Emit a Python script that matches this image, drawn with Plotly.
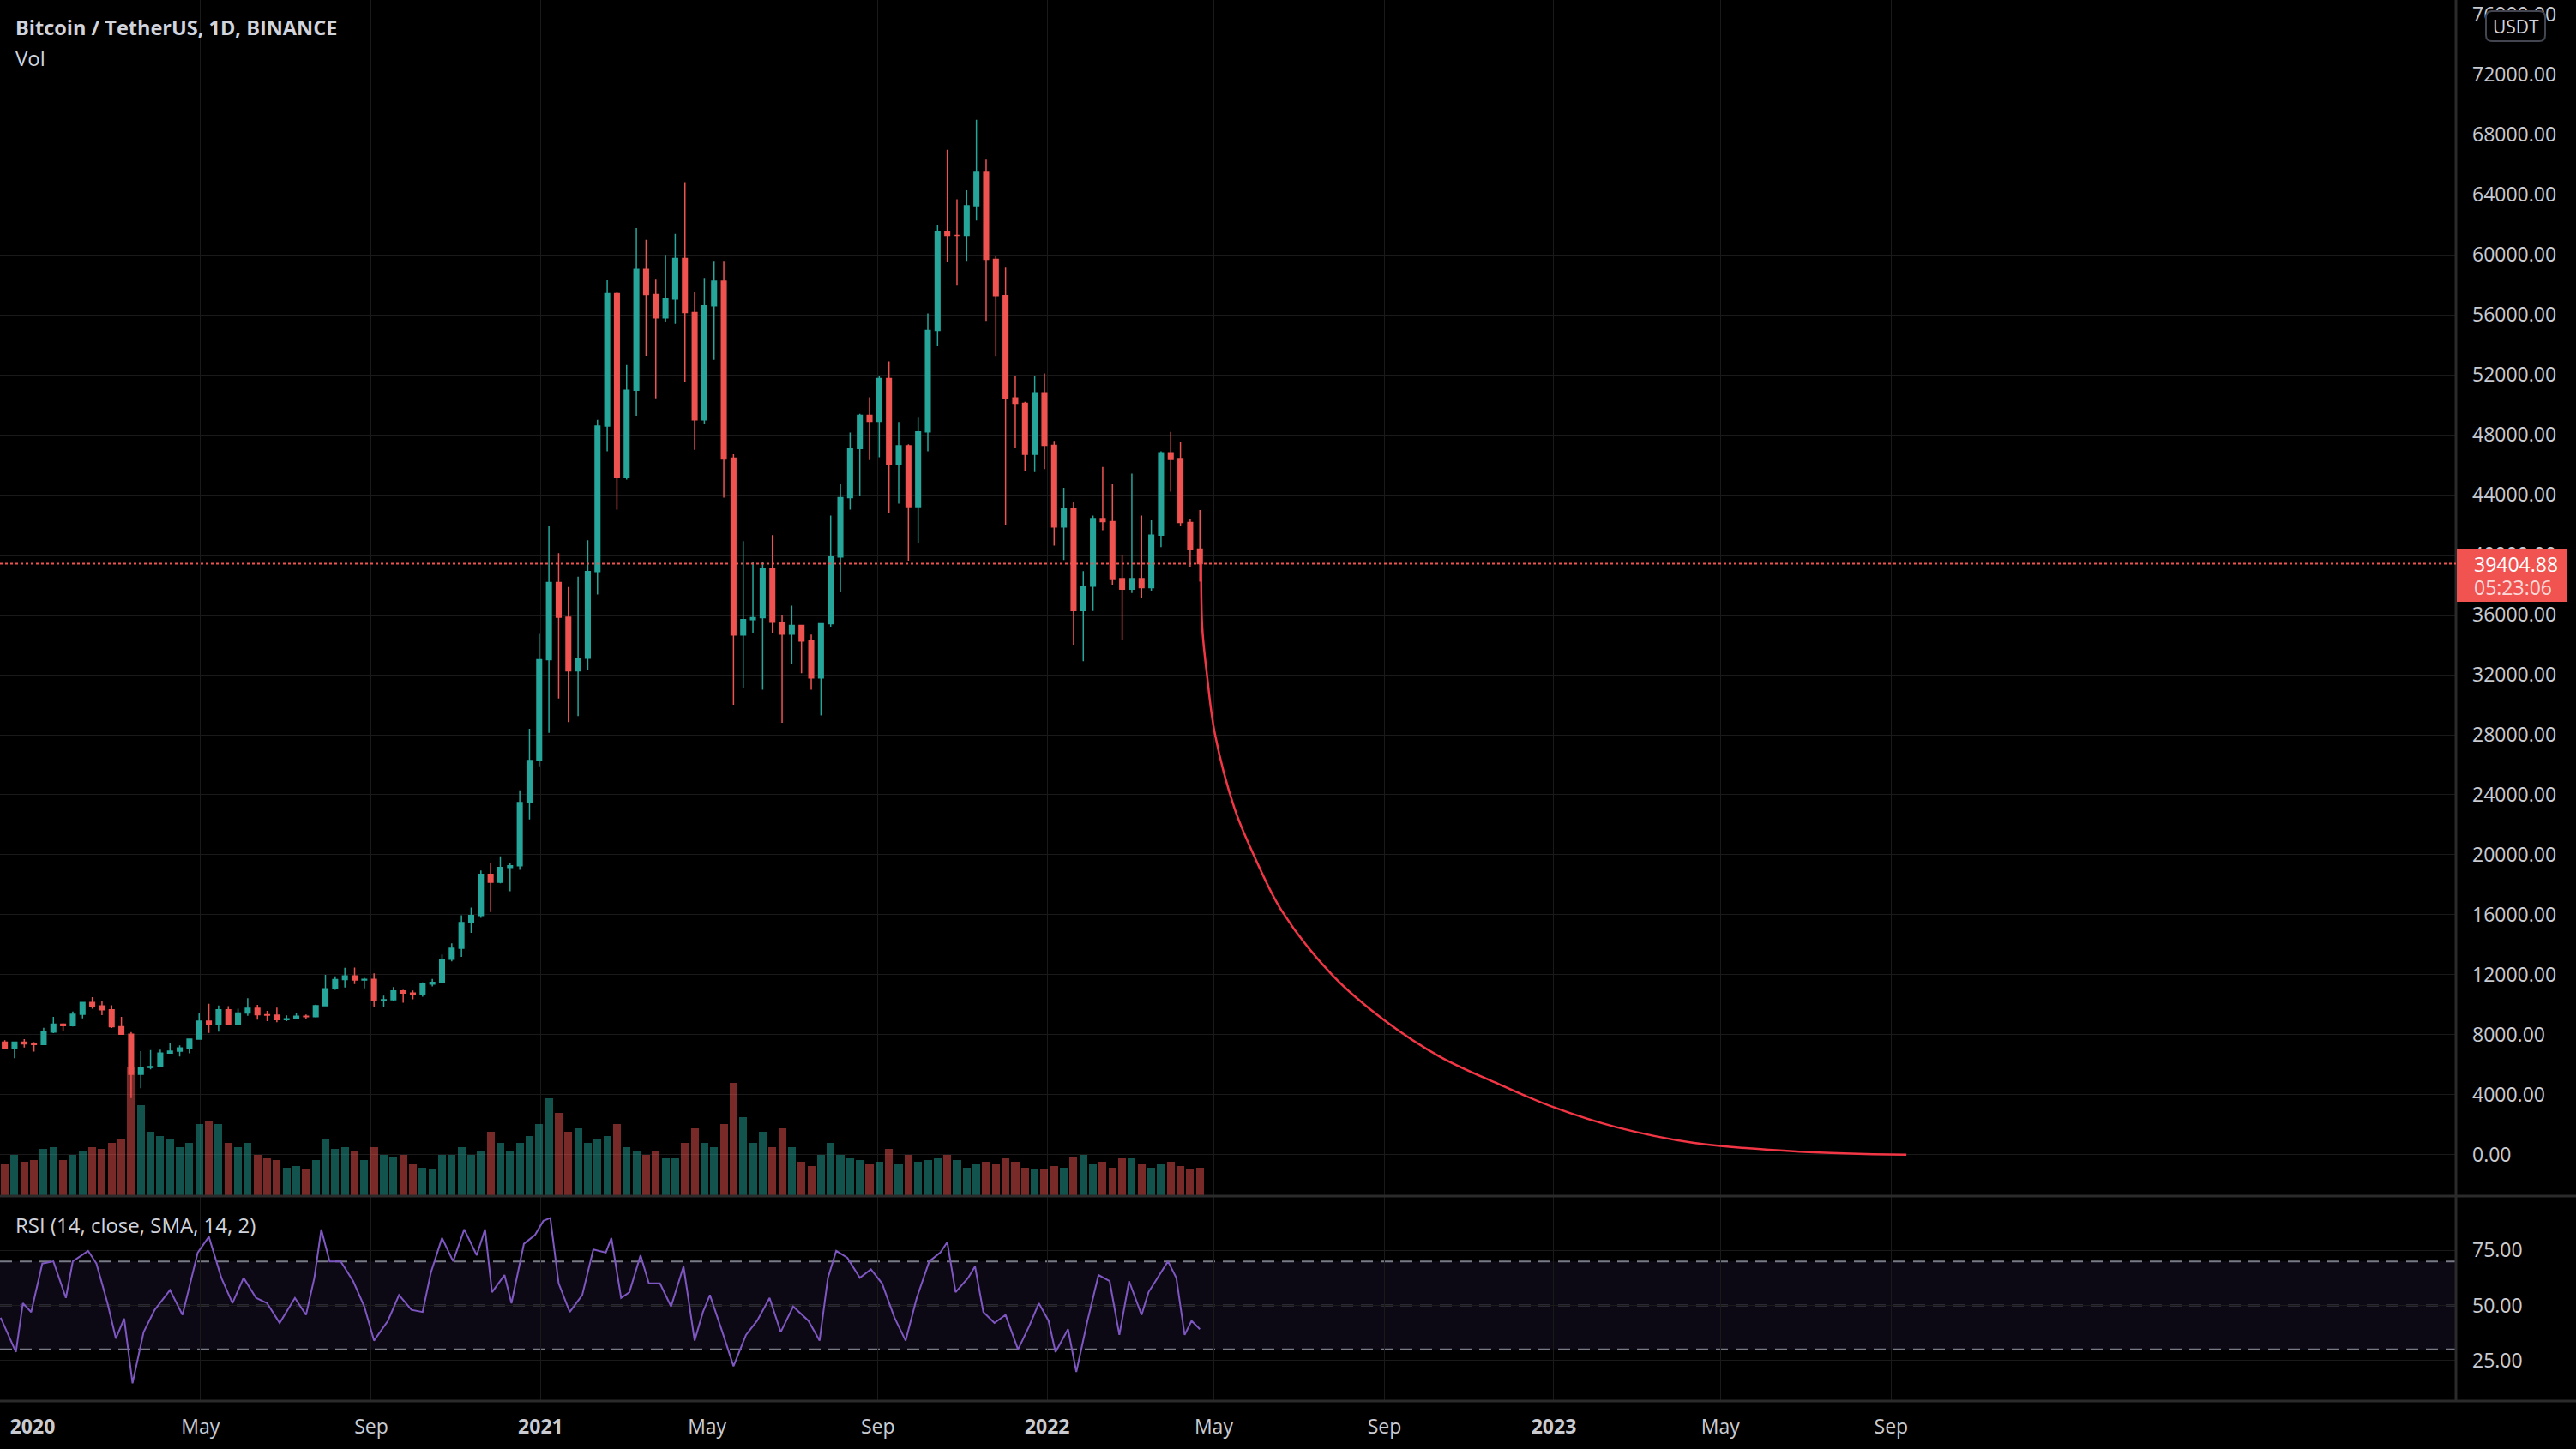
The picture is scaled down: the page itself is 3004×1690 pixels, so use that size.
import pandas as pd
import plotly.graph_objects as go

# ---------------- data (weekly candles) ----------------
week_start_first = "2019-12-02"
open_ = [7400, 7510, 7070, 7510,
         7390, 7350, 8180, 8700, 8600,
         9370, 10150, 9920, 9670,
         8530, 8040, 5360, 5820, 5880,
         6780, 6900, 7120, 7700,
         8900, 8720, 9670, 8720,
         9450, 9760, 9330, 9300, 9000,
         9070, 9240, 9210, 9930,
         11060, 11680, 11920, 11650, 11700,
         10260, 10330, 10920, 10780,
         10660, 11380, 11500, 13030,
         13760, 15480, 15950, 18690, 18170,
         19150, 19270, 23480, 26280,
         33000, 38150, 35830, 32260,
         33100, 38880, 48580, 57410,
         45140, 50970, 59020, 57350, 55800,
         57060, 59750, 56150, 49000,
         56600, 58240, 46430, 34650, 35670,
         35800, 39100, 35500, 34700,
         35290, 34240, 31780, 35400,
         39850, 43800, 47080, 49300, 48900,
         51750, 46050, 47260, 43200,
         48200, 54960, 61550, 61300,
         61300, 63270, 65500, 59700, 57280,
         50450, 50100, 46700, 50800,
         47300, 41850, 43080, 36280, 37900,
         42400, 42200, 38400, 37700,
         38400, 37800, 41300, 46800,
         46400, 42150, 40380]
high = [7700, 7640, 7520, 7700,
        7500, 8460, 9190, 8770, 9550,
        9900, 10500, 10250, 9960,
        9190, 8180, 6900, 6980, 7000,
        7470, 7290, 7700, 9460,
        10070, 9950, 9900, 9740,
        10430, 9990, 9590, 9800, 9290,
        9480, 9350, 10000, 12000,
        11900, 12470, 12480, 11800, 12090,
        10610, 11180, 10990, 10950,
        11490, 11720, 13350, 14100,
        15960, 16480, 18960, 19480, 19900,
        19420, 24300, 28400, 34780,
        41950, 40100, 37850, 38530,
        40960, 49000, 58350, 57530,
        52650, 61780, 61000, 58400, 60000,
        61400, 64850, 57500, 58450,
        59600, 59600, 46700, 40900, 39500,
        39500, 41300, 36000, 36600,
        35300, 34680, 35450, 42600,
        44700, 48150, 49400, 50500, 51900,
        52900, 48850, 47360, 49200,
        56100, 62000, 67000, 63700,
        64300, 69000, 66340, 59900, 59200,
        51950, 50200, 51900, 52100,
        47600, 44460, 43500, 38900, 42600,
        45850, 44750, 40000, 45400,
        42600, 42300, 46900, 48200,
        47500, 42400, 42980]
low = [7150, 7020, 6435, 7150,
       6870, 7340, 8100, 8240, 8550,
       9090, 9730, 9300, 8450,
       8000, 3780, 4440, 5690, 5860,
       6770, 6550, 6760, 7680,
       8120, 8200, 8700, 8630,
       9270, 9000, 8900, 8830, 8900,
       9050, 9050, 9150, 9900,
       11000, 11150, 11380, 11100, 9880,
       9880, 10260, 10140, 10370,
       10530, 11220, 11420, 12900,
       13200, 14800, 15790, 16180, 18100,
       17570, 19000, 22350, 25900,
       28130, 30420, 28850, 29240,
       32300, 37340, 46900, 43000,
       45000, 49270, 53270, 50420, 55500,
       55400, 51500, 47000, 48750,
       53000, 43800, 30000, 31100, 34800,
       31000, 34800, 28800, 32700,
       32100, 31000, 29280, 35200,
       37500, 43000, 43900, 46370, 46500,
       42800, 43400, 39600, 40800,
       46900, 53900, 59500, 58000,
       59600, 62280, 55600, 53250, 42000,
       47100, 45600, 45560, 45700,
       40600, 39650, 34000, 32900, 36250,
       41640, 38000, 34300, 37450,
       37100, 37600, 40500, 44200,
       41900, 39200, 38200]
close = [7510, 7070, 7510, 7390,
         7350, 8180, 8700, 8600, 9370,
         10150, 9920, 9670, 8530,
         8040, 5360, 5820, 5880, 6780,
         6900, 7120, 7700, 8900,
         8720, 9670, 8720, 9450,
         9760, 9330, 9300, 9000, 9070,
         9240, 9210, 9930, 11060,
         11680, 11920, 11650, 11700, 10260,
         10330, 10920, 10780, 10660,
         11380, 11500, 13030, 13760,
         15480, 15950, 18690, 18170, 19150,
         19270, 23480, 26280, 33000,
         38150, 35830, 32260, 33100,
         38880, 48580, 57410, 45140,
         50970, 59020, 57350, 55800, 57060,
         59750, 56150, 49000, 56600,
         58240, 46430, 34650, 35670, 35800,
         39100, 35500, 34700, 35290,
         34240, 31780, 35400, 39850,
         43800, 47080, 49300, 48900, 51750,
         46050, 47260, 43200, 48200,
         54960, 61550, 61300, 61300,
         63270, 65500, 59700, 57280, 50450,
         50100, 46700, 50800, 47300,
         41850, 43080, 36280, 37900, 42400,
         42200, 38400, 37700, 38400,
         37800, 41300, 46800, 46400,
         42150, 40380, 39404.88]
# average daily volume of each week, thousand BTC
volume = [40, 42, 55, 45,
          48, 62, 65, 48, 55,
          60, 65, 62, 70,
          75, 170, 120, 85, 80,
          75, 65, 70, 95,
          100, 95, 70, 65,
          70, 55, 50, 48, 38,
          40, 35, 48, 75,
          62, 65, 60, 48, 65,
          55, 52, 55, 42,
          38, 35, 55, 55,
          65, 55, 60, 85, 70,
          60, 70, 80, 95,
          130, 110, 85, 90,
          70, 75, 80, 95,
          65, 60, 55, 60, 50,
          50, 70, 90, 70,
          65, 95, 150, 105, 70,
          85, 65, 90, 65,
          45, 40, 55, 70,
          55, 50, 48, 42, 45,
          62, 42, 55, 45,
          48, 50, 55, 48,
          38, 42, 45, 42, 50,
          45, 38, 35, 35,
          40, 38, 52, 55, 42,
          45, 38, 50, 50,
          42, 38, 42, 45,
          40, 35, 38]

rsi_dates = ["2019-12-09", "2019-12-20", "2019-12-25", "2019-12-31", "2020-01-08", "2020-01-16",
             "2020-01-25", "2020-01-30", "2020-02-10", "2020-02-16", "2020-02-24", "2020-03-01",
             "2020-03-07", "2020-03-13", "2020-03-21", "2020-03-29", "2020-04-09", "2020-04-18",
             "2020-04-29", "2020-05-07", "2020-05-16", "2020-05-24", "2020-06-01", "2020-06-10",
             "2020-06-18", "2020-06-27", "2020-07-08", "2020-07-16", "2020-07-22", "2020-07-27",
             "2020-08-02", "2020-08-10", "2020-08-19", "2020-08-27", "2020-09-03", "2020-09-13",
             "2020-09-21", "2020-09-30", "2020-10-08", "2020-10-14", "2020-10-22", "2020-10-30",
             "2020-11-07", "2020-11-16", "2020-11-22", "2020-11-27", "2020-12-06", "2020-12-11",
             "2020-12-20", "2020-12-28", "2021-01-03", "2021-01-08", "2021-01-14", "2021-01-22",
             "2021-01-31", "2021-02-08", "2021-02-17", "2021-02-21", "2021-02-28", "2021-03-06",
             "2021-03-14", "2021-03-20", "2021-03-28", "2021-04-05", "2021-04-14", "2021-04-22",
             "2021-04-28", "2021-05-03", "2021-05-12", "2021-05-20", "2021-05-29", "2021-06-06",
             "2021-06-15", "2021-06-23", "2021-07-02", "2021-07-13", "2021-07-21", "2021-07-27",
             "2021-08-02", "2021-08-10", "2021-08-19", "2021-08-27", "2021-09-04", "2021-09-13",
             "2021-09-21", "2021-09-29", "2021-10-08", "2021-10-16", "2021-10-21", "2021-10-27",
             "2021-11-05", "2021-11-10", "2021-11-16", "2021-11-24", "2021-12-02", "2021-12-11",
             "2021-12-19", "2021-12-26", "2022-01-02", "2022-01-07", "2022-01-16", "2022-01-22",
             "2022-01-30", "2022-02-07", "2022-02-15", "2022-02-22", "2022-03-01", "2022-03-10",
             "2022-03-15", "2022-03-24", "2022-03-29", "2022-04-04", "2022-04-10", "2022-04-15",
             "2022-04-21"]
rsi_values = [44.4, 28.8, 51, 47, 69, 70,
              53.4, 70, 74.8, 69, 51, 35,
              44, 14.6, 37.9, 48, 57, 45.7,
              74, 81.2, 62.5, 51, 62.5, 53.4,
              51, 42, 53.4, 45.7, 62.5, 84.5,
              70, 70, 61, 49.5, 34, 43,
              54.7, 48, 47, 65, 80.6, 70,
              84.5, 72.8, 84.5, 56, 63.8, 51,
              78, 82, 88.4, 89.7, 60, 47,
              54.7, 75.4, 74, 80.6, 53.4, 56,
              72.8, 60, 60, 49.5, 67.7, 34,
              47, 54.7, 37.9, 22.4, 36.6, 43,
              53.4, 37.9, 49.5, 43, 34, 62.5,
              74.8, 71.6, 62.5, 66.4, 60, 44.4,
              34, 53.4, 70, 74, 78.7, 56,
              62.5, 67.7, 47, 42, 45.7, 30,
              40.5, 51, 43, 28.8, 39.2, 19.8,
              43, 63.8, 61, 36.6, 61, 45.7,
              56, 65, 70, 62.5, 36.6, 43,
              39.2]

# hand-drawn curve
curve_dates = ["2022-04-21 21:00", "2022-04-22 17:00", "2022-04-26 02:00", "2022-05-01 19:00",
               "2022-05-16 00:00", "2022-05-30 02:00", "2022-06-19 00:00", "2022-07-25 22:00",
               "2022-09-01 14:00", "2022-10-10 12:00", "2022-11-22 00:00", "2023-01-01 07:00",
               "2023-02-15 00:00", "2023-04-12 00:00", "2023-06-27 00:00", "2023-09-12 00:00"]
curve_values = [39404, 35150, 32000, 28070, 23080, 19930, 16260, 11930,
                8920, 6560, 4720, 3150, 1840, 790, 210, 0]

price_ticks = list(range(0, 76001, 4000))
rsi_ticks = [25, 50, 75]
x_tick_dates = ["2020-01-01", "2020-05-01", "2020-09-01", "2021-01-01", "2021-05-01", "2021-09-01",
                "2022-01-01", "2022-05-01", "2022-09-01", "2023-01-01", "2023-05-01", "2023-09-01"]
x_tick_text = ["<b>2020</b>", "May", "Sep", "<b>2021</b>", "May", "Sep",
               "<b>2022</b>", "May", "Sep", "<b>2023</b>", "May", "Sep"]
last_price = 39404.88
countdown = "05:23:06"
title_text = "Bitcoin / TetherUS, 1D, BINANCE"
vol_text = "Vol"
rsi_text = "RSI (14, close, SMA, 14, 2)"
currency = "USDT"

# ---------------- layout geometry (pixels) ----------------
W, H = 3004, 1690
PL, PR, PT, PB = 0, 2864, 0, 1634
SEP = 1395
FONT = "Open Sans"
TXT = "#c9cbd1"
GRID = "#1a1a1a"
UP, DN = "#26a69a", "#ef5350"


def px(xp):
    return (xp - PL) / (PR - PL)


def py(yp):
    return (PB - yp) / (PB - PT)


def price_at(yp):
    return (1346.8 - yp) / 0.017493


def rsi_at(yp):
    return 75 - (yp - 1458.3) / 2.568


t0 = pd.Timestamp("2020-01-01")


def date_at(xp):
    return t0 + pd.Timedelta(days=(xp - 38) / 1.6186)


week_start = pd.date_range(week_start_first, periods=len(close), freq="7D")
xw = week_start + pd.Timedelta(days=3)
vcol = ["rgba(38,166,154,0.5)" if c >= o else "rgba(239,83,80,0.5)" for o, c in zip(open_, close)]

fig = go.Figure()
fig.add_trace(go.Bar(x=xw, y=volume, marker=dict(color=vcol, line=dict(width=0)),
                     xaxis="x", yaxis="y", showlegend=False, width=7 * 86400000 * 0.8))
fig.add_trace(go.Candlestick(x=xw, open=open_, high=high, low=low, close=close,
                             xaxis="x", yaxis="y3", showlegend=False, whiskerwidth=0,
                             increasing=dict(line=dict(color=UP, width=1.5), fillcolor=UP),
                             decreasing=dict(line=dict(color=DN, width=1.5), fillcolor=DN)))
fig.add_trace(go.Scatter(x=pd.to_datetime(curve_dates, format="ISO8601"), y=curve_values, mode="lines",
                         line=dict(color="#f23645", width=2.5, shape="spline", smoothing=1.0),
                         xaxis="x", yaxis="y3", showlegend=False))
fig.add_trace(go.Scatter(x=pd.to_datetime(rsi_dates, format="ISO8601"), y=rsi_values, mode="lines",
                         line=dict(color="#7e57c2", width=2),
                         xaxis="x2", yaxis="y2", showlegend=False))

xr = [date_at(0), date_at(PR)]
fig.update_layout(
    width=W, height=H, margin=dict(l=PL, r=W - PR, t=PT, b=H - PB),
    paper_bgcolor="#000000", plot_bgcolor="#000000",
    font=dict(family=FONT, size=23, color=TXT),
    showlegend=False, bargap=0,
    xaxis=dict(domain=[0, 1], anchor="y", range=xr, tickvals=x_tick_dates, showticklabels=False,
               showgrid=True, gridcolor=GRID, gridwidth=1, zeroline=False, showline=False,
               rangeslider=dict(visible=False), fixedrange=True),
    xaxis2=dict(domain=[0, 1], anchor="y2", matches="x", range=xr, tickvals=x_tick_dates,
                ticktext=x_tick_text, showgrid=True, gridcolor=GRID, zeroline=False,
                showline=False, ticks="", ticklabelstandoff=14,
                tickfont=dict(family=FONT, size=23, color=TXT)),
    yaxis=dict(domain=[py(SEP), 1], anchor="x", range=[0, 1585], visible=False, fixedrange=True),
    yaxis3=dict(overlaying="y", anchor="x", side="right", range=[price_at(SEP), price_at(0)],
                tickvals=price_ticks, ticktext=[f"{v:.2f}" for v in price_ticks],
                showgrid=True, gridcolor=GRID, zeroline=False, showline=False, ticks="",
                ticklabelstandoff=18, tickfont=dict(family=FONT, size=23, color=TXT)),
    yaxis2=dict(domain=[0, py(SEP)], anchor="x2", side="right", range=[rsi_at(PB), rsi_at(SEP)],
                tickvals=rsi_ticks, ticktext=[f"{v:.2f}" for v in rsi_ticks],
                showgrid=True, gridcolor=GRID, zeroline=False, showline=False, ticks="",
                ticklabelstandoff=18, tickfont=dict(family=FONT, size=23, color=TXT)),
)

shapes = []
# RSI band and levels
shapes.append(dict(type="rect", xref="paper", yref="y2", x0=0, x1=1, y0=30, y1=70,
                   fillcolor="rgba(126,87,194,0.10)", line=dict(width=0), layer="below"))
for lvl, col in [(70, "#787b86"), (30, "#787b86"), (50, "rgba(120,123,134,0.55)")]:
    shapes.append(dict(type="line", xref="paper", yref="y2", x0=0, x1=1, y0=lvl, y1=lvl,
                       line=dict(color=col, width=2, dash="14px,9px"), layer="between"))
# pane separators and axis borders
LINEC = "#2b2b2b"
shapes.append(dict(type="line", xref="paper", yref="paper", x0=0, x1=px(W), y0=py(SEP), y1=py(SEP),
                   line=dict(color=LINEC, width=3), layer="above"))
shapes.append(dict(type="line", xref="paper", yref="paper", x0=0, x1=px(W), y0=py(PB), y1=py(PB),
                   line=dict(color=LINEC, width=3), layer="above"))
shapes.append(dict(type="line", xref="paper", yref="paper", x0=px(PR), x1=px(PR), y0=py(PB), y1=py(0),
                   line=dict(color=LINEC, width=3), layer="above"))
# last price line + label
shapes.append(dict(type="line", xref="paper", yref="y3", x0=0, x1=1, y0=last_price, y1=last_price,
                   line=dict(color="#ef5350", width=2, dash="dot"), layer="above"))
shapes.append(dict(type="rect", xref="paper", yref="paper", x0=px(2865), x1=px(2993),
                   y0=py(702), y1=py(640), fillcolor="#f05350", line=dict(width=0), layer="above"))
# USDT badge with rounded corners
bx0, bx1, by0, by1, r = 2899, 2968, 13, 48, 7
pts = (f"M {px(bx0 + r)},{py(by0)} L {px(bx1 - r)},{py(by0)} Q {px(bx1)},{py(by0)} {px(bx1)},{py(by0 + r)} "
       f"L {px(bx1)},{py(by1 - r)} Q {px(bx1)},{py(by1)} {px(bx1 - r)},{py(by1)} "
       f"L {px(bx0 + r)},{py(by1)} Q {px(bx0)},{py(by1)} {px(bx0)},{py(by1 - r)} "
       f"L {px(bx0)},{py(by0 + r)} Q {px(bx0)},{py(by0)} {px(bx0 + r)},{py(by0)} Z")
shapes.append(dict(type="path", xref="paper", yref="paper", path=pts, fillcolor="#000000",
                   line=dict(color="#434651", width=2), layer="above"))
fig.update_layout(shapes=shapes)

ann = [
    dict(text=f"<b>{title_text}</b>", x=px(16), y=py(32), size=23.5, col="#d1d4dc", xa="left"),
    dict(text=vol_text, x=px(16), y=py(67), size=24, col="#d1d4dc", xa="left"),
    dict(text=rsi_text, x=px(16), y=py(1428), size=24, col="#d1d4dc", xa="left"),
    dict(text=f"{last_price:.2f}", x=px(2883), y=py(658), size=23, col="#ffffff", xa="left"),
    dict(text=countdown, x=px(2883), y=py(685), size=23, col="rgba(255,235,235,0.9)", xa="left"),
    dict(text=currency, x=px(2933.5), y=py(31), size=21, col="#d1d4dc", xa="center"),
]
fig.update_layout(annotations=[
    dict(text=a["text"], x=a["x"], y=a["y"], xref="paper", yref="paper", showarrow=False,
         xanchor=a["xa"], yanchor="middle", font=dict(family=FONT, size=a["size"], color=a["col"]))
    for a in ann])

fig.write_html("out.html")
